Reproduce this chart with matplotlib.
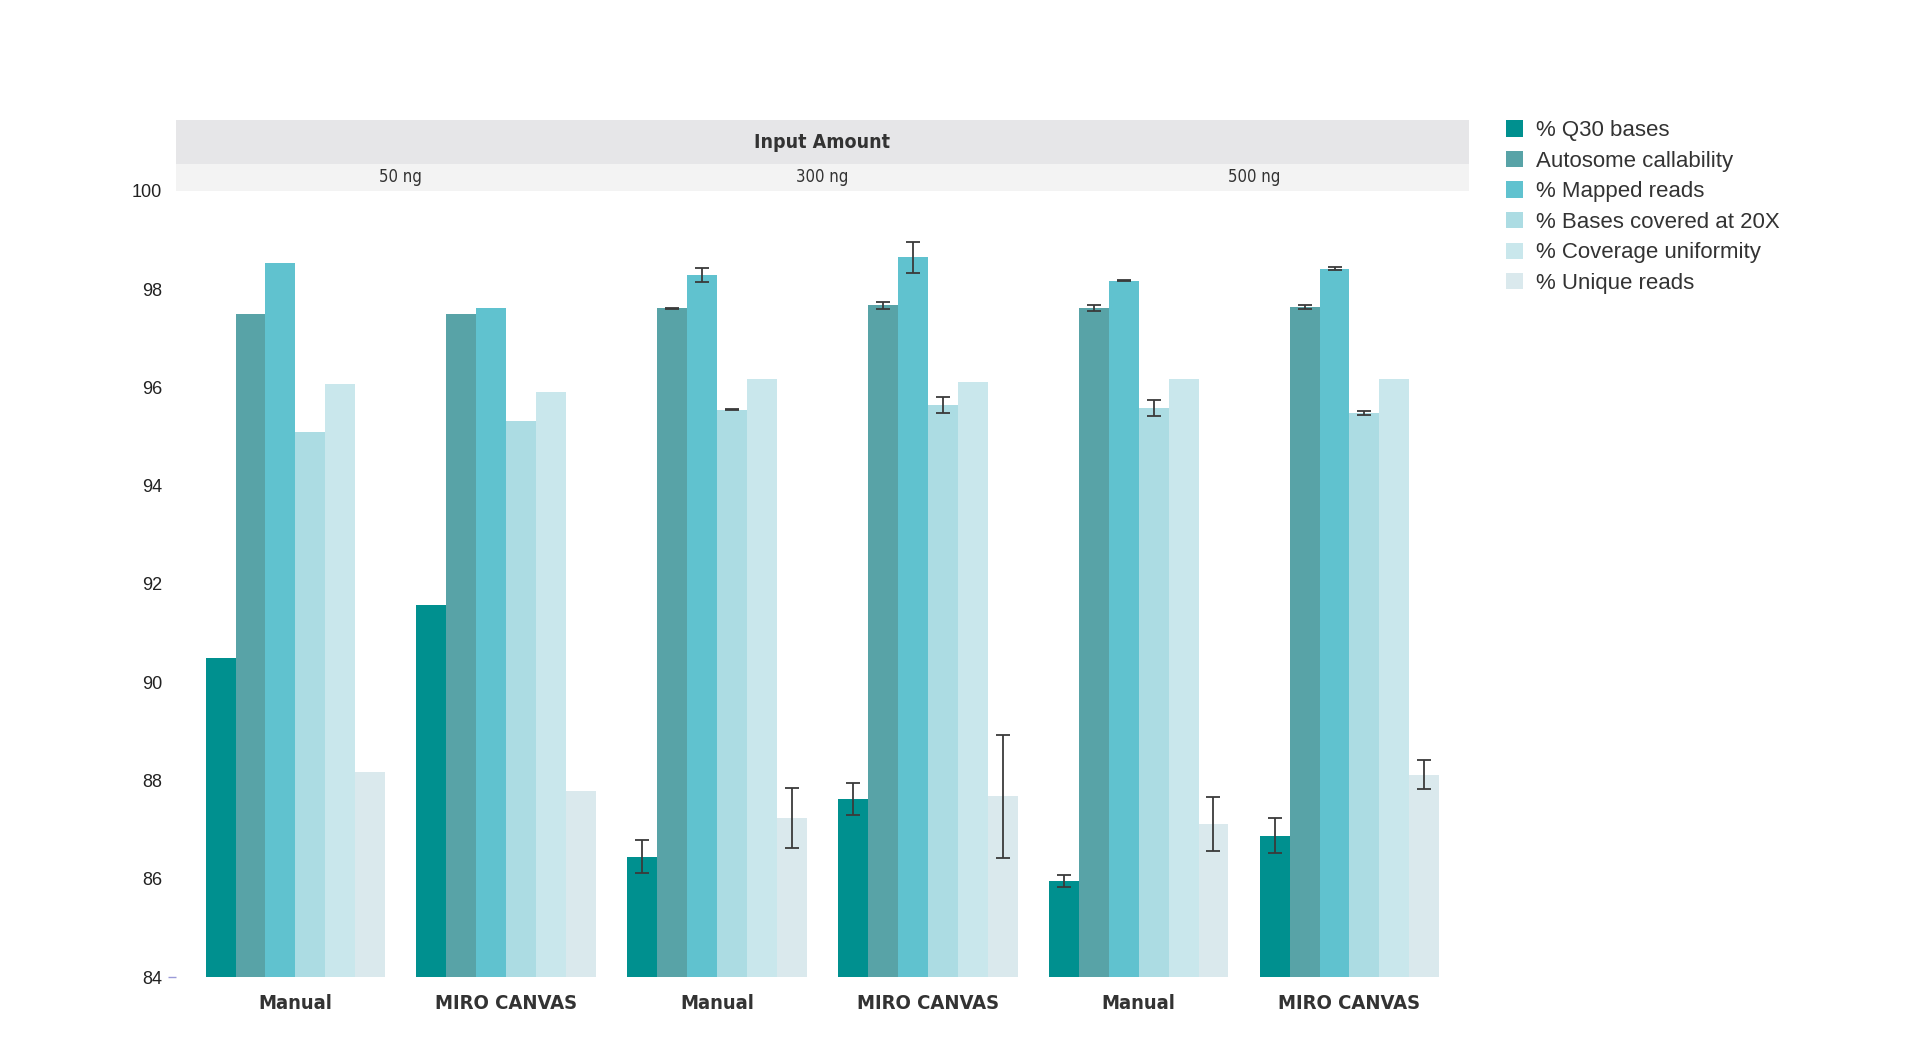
import numpy as np
import matplotlib
matplotlib.use("Agg")
import matplotlib.pyplot as plt
import matplotlib.transforms as mtransforms
from matplotlib.patches import Patch, Rectangle

plt.rcParams["font.family"] = ["Liberation Sans", "DejaVu Sans"]

groups = ["Manual", "MIRO CANVAS", "Manual", "MIRO CANVAS", "Manual", "MIRO CANVAS"]
amounts = ["50 ng", "300 ng", "500 ng"]
metrics = ["% Q30 bases", "Autosome callability", "% Mapped reads",
           "% Bases covered at 20X", "% Coverage uniformity", "% Unique reads"]
colors = ["#00908f", "#58a3a7", "#60c2cf", "#acdce3", "#c9e7ec", "#dae9ed"]

nan = np.nan
q30 = [90.50, 91.58, 86.45, 87.62, 85.95, 86.88]
autosome = [97.50, 97.50, 97.61, 97.67, 97.61, 97.63]
mapped = [98.54, 97.61, 98.29, 98.65, 98.17, 98.42]
bases20x = [95.09, 95.31, 95.55, 95.65, 95.58, 95.48]
coverage = [96.07, 95.90, 96.18, 96.11, 96.18, 96.18]
unique = [88.18, 87.79, 87.23, 87.68, 87.12, 88.12]

q30_err = [nan, nan, 0.33, 0.33, 0.12, 0.36]
autosome_err = [nan, nan, 0.01, 0.07, 0.06, 0.04]
mapped_err = [nan, nan, 0.15, 0.32, 0.01, 0.03]
bases20x_err = [nan, nan, 0.01, 0.16, 0.16, 0.05]
coverage_err = [nan, nan, nan, nan, nan, nan]
unique_err = [nan, nan, 0.61, 1.25, 0.55, 0.30]

series = [q30, autosome, mapped, bases20x, coverage, unique]
errors = [q30_err, autosome_err, mapped_err, bases20x_err, coverage_err, unique_err]

fig = plt.figure(figsize=(19.2, 10.49), dpi=100)
ax = fig.add_axes([0.0917, 0.0686, 0.6733, 0.7494])

x = np.arange(len(groups))
bw = 0.142
base = 84
for i, (vals, errs, col) in enumerate(zip(series, errors, colors)):
    pos = x + (i - 2.5) * bw
    vals = np.array(vals)
    ax.bar(pos, vals - base, bw, bottom=base, color=col, edgecolor="none")
    errs = np.array(errs)
    m = ~np.isnan(errs)
    if m.any():
        ax.errorbar(pos[m], vals[m], yerr=errs[m], fmt="none", ecolor="#3a3a3a",
                    elinewidth=1.3, capsize=5, capthick=1.3)

ax.set_xlim(-0.566, 5.566)
ax.set_ylim(84, 100)
ax.yaxis.remove_overlapping_locs = False
ax.set_yticks(np.arange(84, 101, 2))
ax.set_yticks([84], minor=True)
ax.tick_params(axis="y", which="major", length=0, pad=10, labelsize=13, labelcolor="#222222")
ax.tick_params(axis="y", which="minor", length=6, width=1, color="#9a9ad8")
ax.set_xticks(x)
ax.set_xticklabels(groups, fontsize=14.5, fontweight="bold", color="#333333",
                   family=["DejaVu Sans"], fontstretch="condensed")
ax.tick_params(axis="x", length=0, pad=12)
for s in ax.spines.values():
    s.set_visible(False)

# header bands above the plot
axpos = ax.get_position()
fig.add_artist(Rectangle((axpos.x0, 0.8436), axpos.width, 0.042, transform=fig.transFigure,
                         facecolor="#e6e6e8", edgecolor="none"))
fig.add_artist(Rectangle((axpos.x0, axpos.y1), axpos.width, 0.8436 - axpos.y1,
                         transform=fig.transFigure, facecolor="#f3f3f3", edgecolor="none"))
fig.text(axpos.x0 + axpos.width / 2, 0.8646, "Input Amount", ha="center", va="center",
         fontsize=14, fontweight="bold", color="#333333", family=["DejaVu Sans"],
         fontstretch="condensed")
amount_pos = [0.5, 2.5, 4.55]
trans = mtransforms.blended_transform_factory(ax.transData, fig.transFigure)
for a, xc in zip(amounts, amount_pos):
    fig.text(xc, 0.831, a, transform=trans, ha="center", va="center",
             fontsize=12, color="#333333", family=["DejaVu Sans"], fontstretch="condensed")

handles = [Patch(facecolor=c, edgecolor="none", label=l) for c, l in zip(colors, metrics)]
fig.legend(handles=handles, loc="upper left", bbox_to_anchor=(0.774, 0.9045), frameon=False,
           fontsize=16, handlelength=0.75, handleheight=0.75, handletextpad=0.6,
           labelspacing=0.43, labelcolor="#333333")

fig.savefig("out.png", dpi=100)
